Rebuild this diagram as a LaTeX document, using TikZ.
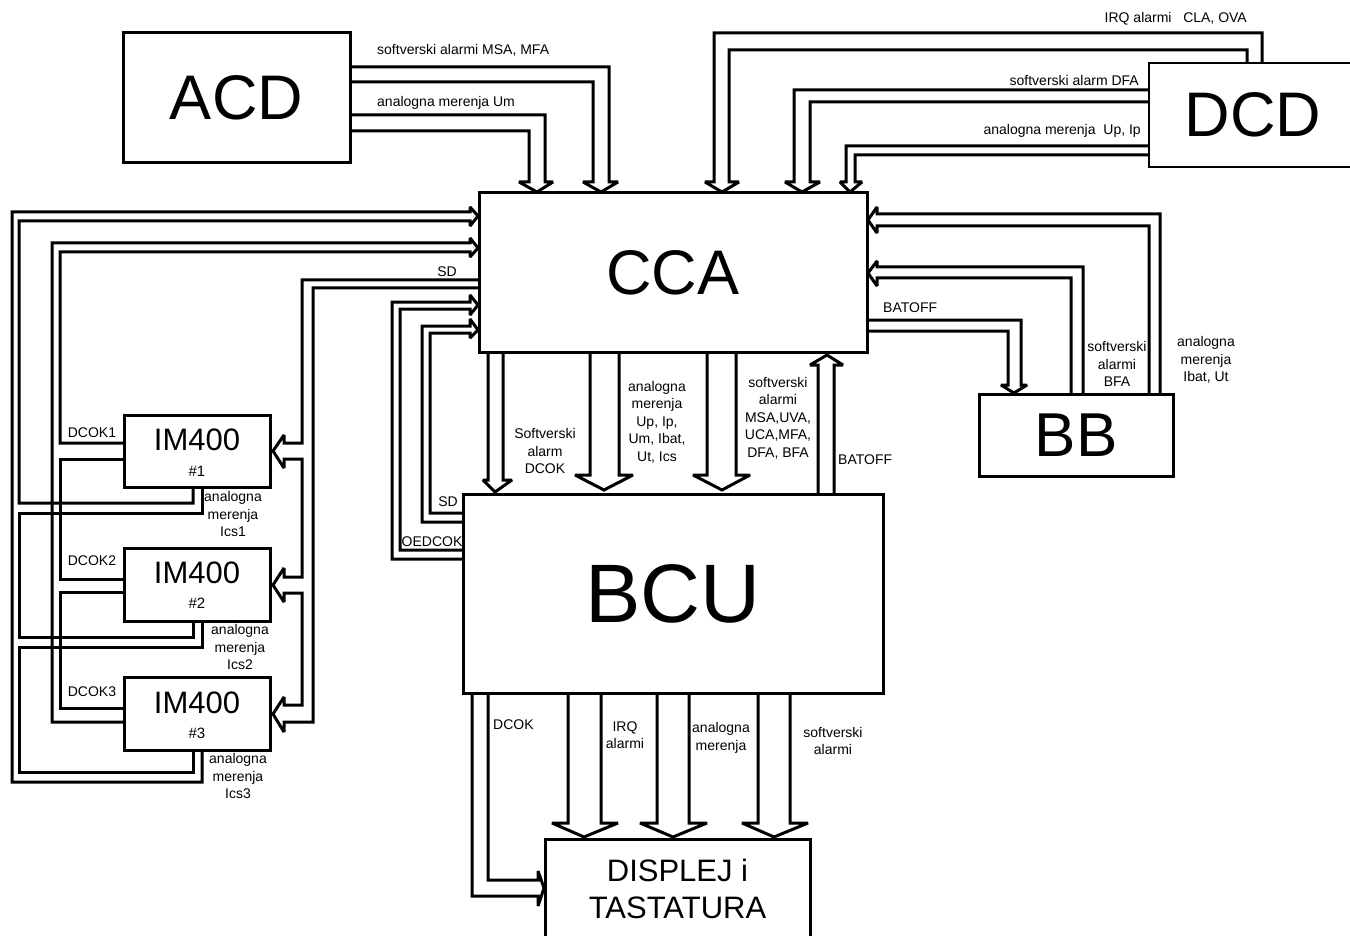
\documentclass[tikz,border=0pt]{standalone}
\usepackage{fontspec}
\setmainfont{Liberation Sans}
\begin{document}
\begin{tikzpicture}[x=1pt,y=-1pt,
  bus/.style={line width=3pt, line join=miter, miter limit=2},
  box/.style={draw, line width=3pt, inner sep=0pt},
  lbl/.style={font=\fontsize{14}{17.5}\selectfont, inner sep=0pt, align=center},
  big/.style={font=\fontsize{63}{63}\selectfont},
  imt/.style={font=\fontsize{31}{31}\selectfont, inner sep=0pt},
  imn/.style={font=\fontsize{15}{15}\selectfont, inner sep=0pt}]
\useasboundingbox (0,0) rectangle (1350,936);
\fill[white] (0,0) rectangle (1350,936);
\clip (0,0) rectangle (1350,936);

% ---------- blocks ----------
\node[box, minimum width=227pt, minimum height=130pt, big] (acd) at (236.5,98) {ACD};
\node[box, line width=1.2pt, minimum width=208pt, minimum height=104pt, big] (dcd) at (1253,115) {DCD};
\node[box, minimum width=388pt, minimum height=159pt, big] (cca) at (673,272.5) {CCA};
\node[box, minimum width=194pt, minimum height=82pt, font=\fontsize{62}{62}\selectfont] (bb) at (1076,435) {BB};
\node[box, minimum width=420pt, minimum height=199pt, font=\fontsize{83}{83}\selectfont] (bcu) at (673,593.5) {BCU};
\node[box, minimum width=265pt, minimum height=100pt, align=center, font=\fontsize{31}{37}\selectfont] (disp) at (677.5,889) {DISPLEJ i\\TASTATURA};

\node[box, minimum width=146pt, minimum height=72pt] (im1) at (197,451) {};
\node[imt] (im1t) at (197,440) {IM400};
\node[imn] (im1n) at (197,471) {\#1};
\node[box, minimum width=146pt, minimum height=73pt] (im2) at (197,584.5) {};
\node[imt] (im2t) at (197,573) {IM400};
\node[imn] (im2n) at (197,603) {\#2};
\node[box, minimum width=146pt, minimum height=73pt] (im3) at (197,713.5) {};
\node[imt] (im3t) at (197,703) {IM400};
\node[imn] (im3n) at (197,733) {\#3};

% ---------- ACD -> CCA ----------
\draw[bus] (350,82) -- (593,82) -- (593,182) -- (583,182) -- (601,192) -- (618,182) -- (609,182) -- (609,67) -- (350,67);
\draw[bus] (350,131) -- (529,131) -- (529,182) -- (519,182) -- (537,192) -- (553,182) -- (545,182) -- (545,115) -- (350,115);
\node[lbl, anchor=west] (l1) at (377,50) {softverski alarmi MSA, MFA};
\node[lbl, anchor=west] (l2) at (377,103) {analogna merenja Um};

% ---------- DCD -> CCA ----------
\draw[bus] (1262,63) -- (1262,33) -- (714,33) -- (714,182) -- (705,182) -- (722,192) -- (739,182) -- (729,182) -- (729,50) -- (1247,50) -- (1247,63);
\draw[bus] (1149,90) -- (794,90) -- (794,182) -- (785,182) -- (802,192) -- (820,182) -- (810,182) -- (810,102) -- (1149,102);
\draw[bus] (1149,146) -- (846,146) -- (846,182) -- (840,182) -- (850,192) -- (862,182) -- (855,182) -- (855,155) -- (1149,155);
\node[lbl, anchor=east] (l3) at (1247,19) {IRQ alarmi~~~CLA, OVA};
\node[lbl, anchor=east] (l4) at (1139,80) {softverski alarm DFA};
\node[lbl, anchor=east] (l5) at (1141,131) {analogna merenja~~Up, Ip};

% ---------- BB <-> CCA ----------
\draw[bus] (1160,394) -- (1160,214) -- (877,214) -- (877,207) -- (868,220) -- (877,233) -- (877,226) -- (1149,226) -- (1149,394);
\draw[bus] (1083,394) -- (1083,267) -- (877,267) -- (877,261) -- (868,273) -- (877,286) -- (877,278) -- (1071,278) -- (1071,394);
\draw[bus] (867,320) -- (1021,320) -- (1021,385) -- (1027,385) -- (1014,393) -- (1001,385) -- (1008,385) -- (1008,331) -- (867,331);
\node[lbl] (l6) at (1206,360) {analogna\\merenja\\Ibat, Ut};
\node[lbl] (l7) at (1117,364) {softverski\\alarmi\\BFA};
\node[lbl, anchor=west] (l8) at (883,308) {BATOFF};

% ---------- CCA <-> BCU ----------
\draw[bus] (488,352) -- (488,480) -- (483,480) -- (495,492) -- (512,480) -- (503,480) -- (503,352);
\draw[bus] (590,352) -- (590,475) -- (575,475) -- (604,490) -- (633,475) -- (619,475) -- (619,352);
\draw[bus] (707,352) -- (707,475) -- (693,475) -- (722,490) -- (750,475) -- (736,475) -- (736,352);
\draw[bus] (818,494) -- (818,365) -- (810,365) -- (827,355) -- (843,365) -- (834,365) -- (834,494);
\node[lbl] (l9) at (545,451) {Softverski\\alarm\\DCOK};
\node[lbl] (l10) at (657,422) {analogna\\merenja\\Up, Ip,\\Um, Ibat,\\Ut, Ics};
\node[lbl] (l11) at (778,418) {softverski\\alarmi\\MSA,UVA,\\UCA,MFA,\\DFA, BFA};
\node[lbl, anchor=west] (l12) at (838,460) {BATOFF};

% ---------- BCU -> DISPLEJ ----------
\draw[bus] (488,693) -- (488,880) -- (538,880) -- (538,871) -- (544,888) -- (538,906) -- (538,896) -- (472,896) -- (472,693);
\draw[bus] (568,693) -- (568,823) -- (552,823) -- (584,837) -- (618,823) -- (601,823) -- (601,693);
\draw[bus] (657,693) -- (657,823) -- (640,823) -- (673,837) -- (707,823) -- (689,823) -- (689,693);
\draw[bus] (758,693) -- (758,823) -- (742,823) -- (774,837) -- (808,823) -- (790,823) -- (790,693);
\node[lbl, anchor=west] (l13) at (493,725) {DCOK};
\node[lbl] (l14) at (625,735) {IRQ\\alarmi};
\node[lbl] (l15) at (721,738) {analogna\\merenja};
\node[lbl] (l16) at (833,741) {softverski\\alarmi};

% ---------- BCU -> CCA (SD, OEDCOK) ----------
\draw[bus] (463,513) -- (430,513) -- (430,333) -- (470,333) -- (470,338) -- (478,330) -- (470,319) -- (470,326) -- (422,326) -- (422,522) -- (463,522);
\draw[bus] (463,550) -- (400,550) -- (400,309) -- (470,309) -- (470,315) -- (478,305) -- (470,295) -- (470,302) -- (392,302) -- (392,559) -- (463,559);
\node[lbl] (l17) at (448,502) {SD};
\node[lbl] (l18) at (432,542) {OEDCOK};

% ---------- CCA -> IM400 (SD) ----------
\draw[bus] (479,280) -- (302,280) -- (302,443) -- (284,443) -- (284,435) -- (273,451) -- (284,468) -- (284,459) -- (302,459)
  -- (302,577) -- (284,577) -- (284,568) -- (273,585) -- (284,602) -- (284,593) -- (302,593)
  -- (302,705) -- (284,705) -- (284,697) -- (273,714) -- (284,732) -- (284,722) -- (313,722) -- (313,288) -- (479,288);
\node[lbl] (l19) at (447,272) {SD};

% ---------- IM400 -> CCA (analogna merenja Ics) ----------
\draw[bus] (202,750) -- (202,782) -- (12,782) -- (12,212) -- (470,212) -- (470,207) -- (478,216) -- (470,226) -- (470,221) -- (19,221) -- (19,503) -- (193,503) -- (193,487);
\draw[bus] (202,487) -- (202,513) -- (19,513) -- (19,637) -- (193,637) -- (193,621);
\draw[bus] (202,621) -- (202,647) -- (19,647) -- (19,772) -- (193,772) -- (193,750);
\node[lbl] (l20) at (233,514) {analogna\\merenja\\Ics1};
\node[lbl] (l21) at (240,647) {analogna\\merenja\\Ics2};
\node[lbl] (l22) at (238,776) {analogna\\merenja\\Ics3};

% ---------- IM400 -> CCA (DCOK) ----------
\draw[bus] (124,722) -- (52,722) -- (52,243) -- (470,243) -- (470,238) -- (478,248) -- (470,257) -- (470,252) -- (60,252) -- (60,443) -- (124,443);
\draw[bus] (124,459) -- (60,459) -- (60,579) -- (124,579);
\draw[bus] (124,592) -- (60,592) -- (60,708) -- (124,708);
\node[lbl] (l23) at (92,433) {DCOK1};
\node[lbl] (l24) at (92,561) {DCOK2};
\node[lbl] (l25) at (92,692) {DCOK3};
\end{tikzpicture}
\end{document}
